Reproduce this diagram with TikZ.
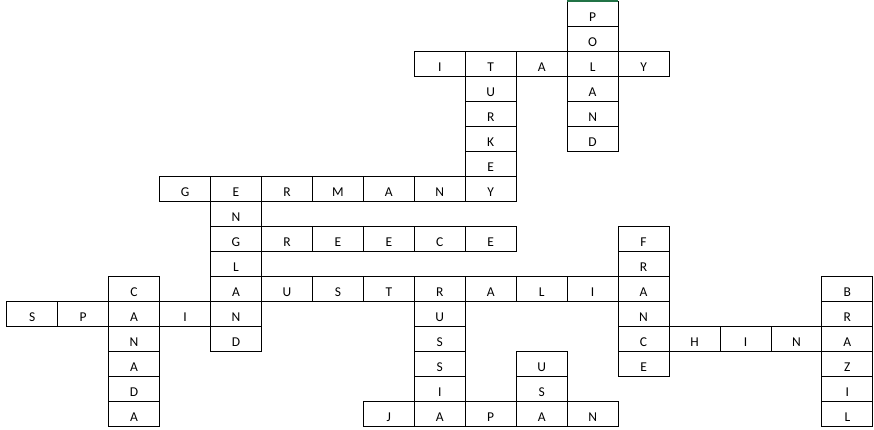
\documentclass[tikz,border=0pt]{standalone}
\usepackage{fontspec}
\setmainfont{Carlito}
\definecolor{selgreen}{RGB}{33,115,70}
\tikzset{
  cell/.style={draw=black, line width=0.9pt, minimum width=50.95pt, minimum height=25pt, inner sep=0pt, outer sep=0pt},
  letter/.style={anchor=base, inner sep=0pt, font=\fontsize{13.5}{16}\selectfont, text=black}
}
\newcommand\placecell[3]{%
  \node[cell] (c-#1-#2) at ({6.7+50.95*(#1+0.5)},{1.7+25*(#2+0.5)}) {};
  \node[letter] (t-#1-#2) at ([yshift=5pt]c-#1-#2.south) {#3};}
\newcommand\hword[3]{\foreach \l [count=\i from 0] in {#3} {\pgfmathtruncatemacro\cc{#1+\i}\placecell{\cc}{#2}{\l}}}
\newcommand\vword[3]{\foreach \l [count=\i from 0] in {#3} {\pgfmathtruncatemacro\rr{#2+\i}\placecell{#1}{\rr}{\l}}}
\begin{document}
\begin{tikzpicture}[x=1pt,y=-1pt]
\useasboundingbox (0,0) rectangle (874,429);
% horizontal words
\hword{8}{2}{I,T,A,L,Y}
\hword{3}{7}{G,E,R,M,A,N,Y}
\hword{4}{9}{G,R,E,E,C,E}
\hword{4}{11}{A,U,S,T,R,A,L,I,A}
\hword{0}{12}{S,P,A,I,N}
\hword{12}{13}{C,H,I,N,A}
\hword{7}{16}{J,A,P,A,N}
% vertical words (shared letters left blank)
\vword{11}{0}{P,O,,A,N,D}
\vword{9}{2}{,U,R,K,E,}
\vword{4}{7}{,N,,L,,,D}
\vword{2}{11}{C,,N,A,D,A}
\vword{8}{11}{,U,S,S,I,}
\vword{10}{14}{U,S,}
\vword{12}{9}{F,R,,N,,E}
\vword{16}{11}{B,R,,Z,I,L}
% selection mark
\draw[selgreen, line width=2pt] ([yshift=0.6pt]c-11-0.north west) -- ([yshift=0.6pt]c-11-0.north east);
\end{tikzpicture}
\end{document}
